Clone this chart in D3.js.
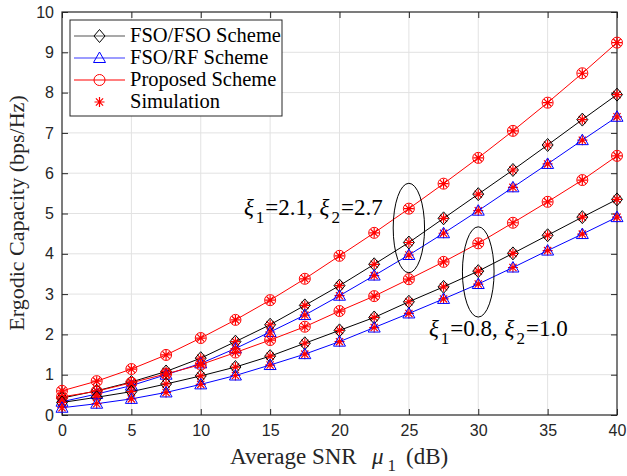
<!DOCTYPE html>
<html>
<head>
<meta charset="utf-8">
<script src="https://cdn.jsdelivr.net/npm/d3@7"></script>
<style>
  body { margin: 0; background: #fff; }
  svg { display: block; }
</style>
</head>
<body>
<svg id="chart"></svg>
<script>
// x values (dB)
const snr = [0, 2.5, 5, 7.5, 10, 12.5, 15, 17.5, 20, 22.5, 25, 27.5, 30, 32.5, 35, 37.5, 40];

// xi1=2.1, xi2=2.7
const proposedHigh = [0.60, 0.84, 1.14, 1.49, 1.91, 2.36, 2.85, 3.38, 3.95, 4.52, 5.12, 5.74, 6.38, 7.05, 7.75, 8.48, 9.24];
const fsoFsoHigh   = [0.42, 0.60, 0.82, 1.08, 1.41, 1.82, 2.24, 2.72, 3.21, 3.74, 4.28, 4.88, 5.48, 6.08, 6.70, 7.33, 7.95];
const fsoRfHigh    = [0.33, 0.52, 0.73, 1.00, 1.28, 1.65, 2.06, 2.48, 2.96, 3.46, 3.97, 4.51, 5.07, 5.65, 6.23, 6.82, 7.40];

// xi1=0.8, xi2=1.0
const proposedLow  = [0.45, 0.59, 0.80, 1.02, 1.25, 1.55, 1.86, 2.19, 2.58, 2.95, 3.37, 3.80, 4.26, 4.77, 5.29, 5.83, 6.43];
const fsoFsoLow    = [0.31, 0.44, 0.58, 0.77, 0.97, 1.19, 1.46, 1.78, 2.10, 2.42, 2.81, 3.18, 3.57, 4.01, 4.46, 4.91, 5.35];
const fsoRfLow     = [0.18, 0.28, 0.40, 0.56, 0.76, 0.98, 1.24, 1.51, 1.82, 2.17, 2.52, 2.88, 3.25, 3.66, 4.08, 4.49, 4.91];

const xTicks = [0, 5, 10, 15, 20, 25, 30, 35, 40];
const yTicks = [0, 1, 2, 3, 4, 5, 6, 7, 8, 9, 10];

const legendNames = ["FSO/FSO Scheme", "FSO/RF Scheme", "Proposed Scheme", "Simulation"];

const width = 627;
const height = 476;
const plotLeft = 62, plotRight = 617, plotTop = 12, plotBottom = 415;
const serif = "'Liberation Serif', 'Times New Roman', serif";
const sans = "'Liberation Sans', Arial, sans-serif";

const svg = d3.select('#chart')
  .attr('width', width)
  .attr('height', height);

const xScale = d3.scaleLinear().domain([0, 40]).range([plotLeft, plotRight]);
const yScale = d3.scaleLinear().domain([0, 10]).range([plotBottom, plotTop]);

// grid
svg.append('g')
  .selectAll('line')
  .data(xTicks.slice(1, -1))
  .enter()
  .append('line')
  .attr('x1', d => xScale(d)).attr('x2', d => xScale(d))
  .attr('y1', plotTop).attr('y2', plotBottom)
  .attr('stroke', '#e2e2e2').attr('stroke-width', 1);

svg.append('g')
  .selectAll('line')
  .data(yTicks.slice(1, -1))
  .enter()
  .append('line')
  .attr('x1', plotLeft).attr('x2', plotRight)
  .attr('y1', d => yScale(d)).attr('y2', d => yScale(d))
  .attr('stroke', '#e2e2e2').attr('stroke-width', 1);

// axes (ticks inward, on all four sides)
let styleAxis = g => {
  g.select('.domain').remove();
  g.selectAll('.tick line').attr('stroke', '#262626');
  g.selectAll('.tick text')
    .attr('fill', '#262626')
    .style('font-family', sans)
    .style('font-size', '16px');
};

svg.append('g')
  .attr('transform', 'translate(0,' + plotBottom + ')')
  .call(d3.axisBottom(xScale).tickValues(xTicks).tickSize(-6).tickPadding(10).tickFormat(d3.format('d')))
  .call(styleAxis);

svg.append('g')
  .attr('transform', 'translate(0,' + plotTop + ')')
  .call(d3.axisTop(xScale).tickValues(xTicks).tickSize(-6).tickFormat(''))
  .call(styleAxis);

svg.append('g')
  .attr('transform', 'translate(' + plotLeft + ',0)')
  .call(d3.axisLeft(yScale).tickValues(yTicks).tickSize(-6).tickPadding(8).tickFormat(d3.format('d')))
  .call(styleAxis);

svg.append('g')
  .attr('transform', 'translate(' + plotRight + ',0)')
  .call(d3.axisRight(yScale).tickValues(yTicks).tickSize(-6).tickFormat(''))
  .call(styleAxis);

svg.append('rect')
  .attr('x', plotLeft).attr('y', plotTop)
  .attr('width', plotRight - plotLeft).attr('height', plotBottom - plotTop)
  .attr('fill', 'none').attr('stroke', '#262626').attr('stroke-width', 1.2);

// marker shapes
let diamond = (g, cx, cy) => g.append('path')
  .attr('d', `M${cx},${cy - 6.5}L${cx + 5.5},${cy}L${cx},${cy + 6.5}L${cx - 5.5},${cy}Z`)
  .attr('fill', 'none').attr('stroke', '#000').attr('stroke-width', 1);
let triangle = (g, cx, cy) => g.append('path')
  .attr('d', `M${cx},${cy - 6}L${cx + 6},${cy + 4.5}L${cx - 6},${cy + 4.5}Z`)
  .attr('fill', 'none').attr('stroke', '#0000ff').attr('stroke-width', 1);
let circle = (g, cx, cy) => g.append('circle')
  .attr('cx', cx).attr('cy', cy).attr('r', 5.5)
  .attr('fill', 'none').attr('stroke', '#ff0000').attr('stroke-width', 1);
let star = (g, cx, cy) => {
  let r = 5, d = 3.6;
  g.append('path')
    .attr('d', `M${cx - r},${cy}L${cx + r},${cy}M${cx},${cy - r}L${cx},${cy + r}` +
      `M${cx - d},${cy - d}L${cx + d},${cy + d}M${cx - d},${cy + d}L${cx + d},${cy - d}`)
    .attr('stroke', '#ff0000').attr('stroke-width', 1.2).attr('fill', 'none');
};

const series = [
  { values: proposedHigh, color: '#ff0000', marker: circle },
  { values: fsoFsoHigh, color: '#000000', marker: diamond },
  { values: fsoRfHigh, color: '#0000ff', marker: triangle },
  { values: proposedLow, color: '#ff0000', marker: circle },
  { values: fsoFsoLow, color: '#000000', marker: diamond },
  { values: fsoRfLow, color: '#0000ff', marker: triangle }
];

let line = d3.line()
  .x((d, i) => xScale(snr[i]))
  .y(d => yScale(d));

let plot = svg.append('g');

series.forEach(s => {
  plot.append('path')
    .datum(s.values)
    .attr('d', line)
    .attr('fill', 'none')
    .attr('stroke', s.color)
    .attr('stroke-width', 1);
});

series.forEach(s => {
  s.values.forEach((v, i) => {
    star(plot, xScale(snr[i]), yScale(v));
    s.marker(plot, xScale(snr[i]), yScale(v));
  });
});

// ellipses round the two groups
let ellipse = (cx, cy, rx, ry) => svg.append('ellipse')
  .attr('cx', xScale(cx)).attr('cy', yScale(cy))
  .attr('rx', xScale(cx + rx) - xScale(cx))
  .attr('ry', yScale(cy - ry) - yScale(cy))
  .attr('fill', 'none').attr('stroke', '#000').attr('stroke-width', 1);

ellipse(25, 4.64, 1.13, 1.11);
ellipse(30, 3.55, 1.14, 1.12);

// annotations
let annotate = (x, y, a, b) => {
  let t = svg.append('text')
    .attr('x', x).attr('y', y)
    .style('font-family', serif)
    .style('font-size', '23px')
    .attr('fill', '#000');
  t.append('tspan').style('font-style', 'italic').text('ξ');
  t.append('tspan').attr('dx', 2).attr('dy', 8).style('font-size', '17px').text('1');
  t.append('tspan').attr('dx', 1).attr('dy', -8).text('=' + a + ', ');
  t.append('tspan').attr('dx', 1).style('font-style', 'italic').text('ξ');
  t.append('tspan').attr('dx', 2).attr('dy', 8).style('font-size', '17px').text('2');
  t.append('tspan').attr('dx', 1).attr('dy', -8).text('=' + b);
};
annotate(244, 215, '2.1', '2.7');
annotate(429, 336, '0.8', '1.0');

// axis labels
let xl = svg.append('text')
  .attr('x', 230).attr('y', 464)
  .style('font-family', serif)
  .style('font-size', '23px')
  .attr('fill', '#262626');
xl.append('tspan').text('Average SNR');
xl.append('tspan').attr('x', 372).style('font-style', 'italic').text('μ');
xl.append('tspan').attr('dx', 4).attr('dy', 7).style('font-size', '17px').text('1');
xl.append('tspan').attr('x', 406).attr('dy', -7).text('(dB)');

svg.append('text')
  .attr('transform', 'translate(24,' + 213 + ') rotate(-90)')
  .attr('text-anchor', 'middle')
  .style('font-family', serif)
  .style('font-size', '22px')
  .attr('fill', '#262626')
  .text('Ergodic Capacity (bps/Hz)');

// legend
let legend = svg.append('g');
legend.append('rect')
  .attr('x', 70).attr('y', 20).attr('width', 212).attr('height', 96)
  .attr('fill', '#fff').attr('stroke', '#262626').attr('stroke-width', 1);

const legendRows = [
  { color: '#555555', marker: diamond, hasLine: true },
  { color: '#3a3aff', marker: triangle, hasLine: true },
  { color: '#ff0000', marker: circle, hasLine: true },
  { color: '#ff0000', marker: star, hasLine: false }
];

legendRows.forEach((r, i) => {
  let cy = 36 + i * 22;
  if (r.hasLine) {
    legend.append('line')
      .attr('x1', 74).attr('x2', 125)
      .attr('y1', cy).attr('y2', cy)
      .attr('stroke', r.color).attr('stroke-width', 1.2);
  }
  r.marker(legend, 99.5, cy);
  legend.append('text')
    .attr('x', 130).attr('y', cy + 6)
    .style('font-family', serif)
    .style('font-size', '20.5px')
    .attr('fill', '#000')
    .text(legendNames[i]);
});
</script>
</body>
</html>
